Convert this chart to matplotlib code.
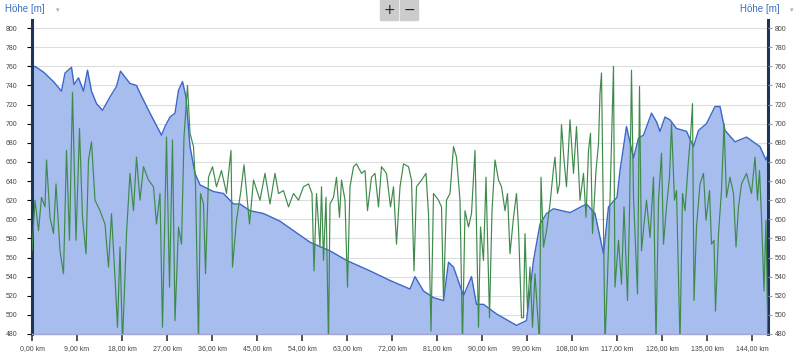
import matplotlib
matplotlib.use("Agg")
import matplotlib.pyplot as plt

plt.rcParams['font.family'] = ['Liberation Sans', 'DejaVu Sans']

# elevation profile (km, m)
hoehe_km = [0.0, 0.6, 2.3, 4.3, 5.9, 6.6, 7.9, 8.4, 9.3, 10.3, 11.1, 11.9, 12.9, 14.1,
            15.6, 16.9, 17.7, 19.6, 20.9, 21.6, 23.6, 25.9, 26.6, 27.6, 28.6, 29.3,
            30.1, 30.8, 31.6, 32.6, 33.6, 36.3, 38.3, 40.3, 41.6, 43.6, 46.3, 49.6,
            55.6, 59.6, 62.9, 67.6, 71.6, 75.6, 76.6, 78.3, 80.3, 82.3, 83.3, 84.3,
            86.3, 87.9, 88.9, 90.3, 92.9, 96.9, 98.9, 100.3, 101.6, 102.9, 104.3,
            107.6, 110.9, 112.6, 114.3, 115.3, 117.0, 117.6, 118.9, 120.3, 121.3,
            122.3, 123.9, 124.9, 125.6, 126.6, 127.6, 128.9, 130.9, 132.3, 133.3,
            134.9, 136.6, 137.6, 138.6, 140.6, 142.9, 145.6, 146.8, 147.2]
hoehe_m = [758, 760, 754, 744, 734, 753, 759, 741, 748, 734, 756, 734, 721, 714,
           728, 739, 755, 742, 740, 732, 711, 688, 697, 707, 711, 735,
           744, 728, 676, 648, 636, 629, 627, 616, 616, 609, 606, 598,
           576, 567, 557, 546, 536, 527, 540, 525, 518, 515, 555, 550,
           520, 540, 511, 511, 501, 489, 494, 557, 595, 606, 611,
           607, 616, 606, 564, 613, 623, 651, 697, 664, 685,
           688, 711, 702, 692, 707, 704, 695, 692, 676, 693,
           700, 718, 718, 693, 681, 686, 676, 662, 668]

# second series (green)
gruen_km = [0.0, 0.6, 1.3, 1.9, 2.6, 2.9, 3.6, 4.3, 4.8, 5.6, 6.3, 6.9, 7.5, 8.1, 8.8,
            9.5, 10.1, 10.8, 11.3, 11.9, 12.6, 13.6, 14.6, 15.3, 15.9, 16.6, 17.1,
            17.6, 18.1, 18.9, 19.6, 20.3, 20.9, 21.6, 22.3, 23.3, 24.3, 24.9, 25.6,
            26.1, 26.9, 27.5, 28.1, 28.6, 29.3, 29.9, 30.4, 31.1, 31.6, 32.3, 32.7,
            33.3, 33.7, 34.3, 34.7, 35.3, 36.1, 36.9, 37.9, 38.9, 39.8, 40.1, 40.9,
            41.7, 42.4, 43.5, 44.3, 45.6, 46.6, 47.6, 48.6, 49.3, 50.3, 51.3, 52.3,
            53.3, 54.3, 55.3, 56.0, 56.4, 56.9, 57.6, 57.9, 58.3, 58.8, 59.3, 59.6,
            60.3, 60.9, 61.5, 61.9, 62.6, 63.1, 63.6, 64.3, 64.9, 65.9, 66.6, 67.1,
            67.9, 68.6, 69.3, 69.9, 70.9, 71.7, 72.3, 72.9, 73.6, 74.3, 75.3, 75.9,
            76.4, 76.9, 77.9, 78.8, 79.3, 79.8, 80.3, 81.3, 81.9, 82.3, 82.9, 83.6,
            84.3, 84.9, 85.6, 86.1, 86.6, 87.3, 87.9, 88.6, 89.3, 89.7, 90.3, 90.8,
            91.5, 92.0, 92.6, 93.3, 93.9, 94.6, 95.1, 95.6, 96.3, 96.9, 97.3, 97.9,
            98.3, 98.6, 99.1, 99.6, 100.1, 100.6, 101.5, 101.8, 102.3, 102.9, 103.6,
            104.3, 104.6, 105.1, 105.5, 105.9, 106.4, 106.9, 107.6, 108.3, 108.9,
            109.6, 110.3, 110.8, 111.3, 111.7, 112.1, 112.8, 113.3, 113.6, 113.9,
            114.3, 114.6, 115.1, 115.6, 116.3, 116.6, 117.3, 117.9, 118.4, 119.1,
            119.5, 119.9, 120.3, 121.1, 121.5, 121.9, 122.4, 122.9, 123.6, 124.3,
            124.8, 125.3, 125.9, 126.3, 126.9, 127.5, 127.9, 128.5, 128.9, 129.6,
            130.1, 130.6, 131.3, 131.7, 132.1, 132.4, 132.9, 133.6, 134.3, 134.8,
            135.5, 135.9, 136.4, 136.7, 137.3, 137.9, 138.4, 138.9, 139.6, 140.3,
            140.8, 141.3, 141.9, 142.9, 143.9, 144.6, 145.1, 145.5, 145.9, 146.4,
            146.8, 147.2]
gruen_m = [567, 620, 588, 623, 613, 662, 602, 585, 637, 567, 543, 672, 578, 733, 578,
           695, 602, 564, 662, 681, 620, 609, 595, 550, 606, 539, 487,
           571, 470, 585, 648, 609, 665, 620, 655, 641, 634, 595, 627,
           487, 686, 529, 683, 494, 592, 574, 686, 740, 690, 676, 637,
           470, 627, 616, 543, 644, 655, 634, 651, 627, 672, 550, 599,
           627, 657, 595, 641, 620, 648, 616, 648, 627, 630, 613, 627,
           620, 634, 637, 627, 546, 627, 571, 634, 557, 623, 470, 616,
           623, 644, 602, 641, 620, 529, 634, 655, 658, 648, 651, 609,
           644, 648, 613, 655, 648, 613, 634, 574, 634, 658, 655, 641,
           546, 634, 641, 648, 606, 483, 627, 620, 613, 515, 620, 627,
           676, 665, 620, 470, 609, 592, 606, 672, 487, 592, 557, 644,
           497, 609, 662, 641, 634, 609, 627, 564, 602, 627, 592, 497,
           497, 585, 504, 550, 487, 543, 470, 644, 571, 588, 616,
           653, 665, 627, 637, 699, 662, 634, 704, 648, 697,
           620, 648, 602, 672, 690, 585, 651, 679, 732, 753,
           592, 470, 539, 620, 760, 529, 578, 532, 613, 515,
           606, 756, 623, 522, 739, 567, 595, 620, 581, 644,
           470, 620, 669, 574, 613, 644, 700, 620, 630, 470,
           627, 609, 662, 686, 721, 515, 592, 637, 648, 599,
           630, 574, 578, 504, 585, 630, 700, 623, 644, 627,
           571, 613, 637, 648, 627, 665, 620, 651, 602, 525,
           599, 470]

y_ticks = [480, 500, 520, 540, 560, 580, 600, 620, 640, 660, 680, 700, 720, 740, 760, 780, 800]
x_ticks = [0, 9, 18, 27, 36, 45, 54, 63, 72, 81, 90, 99, 108, 117, 126, 135, 144]
x_labels = ["%d,00 km" % t for t in x_ticks]

fig = plt.figure(figsize=(8, 3.55), dpi=100)
ax = fig.add_axes([0.04, 0.0592, 0.92, 0.8845])

ax.fill_between(hoehe_km, 400, hoehe_m, color="#a7bdee", lw=0, zorder=1)
ax.plot(hoehe_km, hoehe_m, color="#3a67c8", lw=1.0, zorder=2)
ax.plot(gruen_km, gruen_m, color="#3e8a4c", lw=0.85, zorder=3)

ax.set_xlim(0, 147.2)
ax.set_ylim(480, 808.5)
ax.set_yticks(y_ticks)
ax.set_xticks(x_ticks)
ax.set_xticklabels(x_labels)
ax.grid(axis="y", color="#dddddd", lw=0.8, zorder=0)
ax.set_axisbelow(True)

ax.spines["top"].set_visible(False)
ax.spines["left"].set_color("#1d3557")
ax.spines["left"].set_linewidth(2.2)
ax.spines["right"].set_color("#1d3557")
ax.spines["right"].set_linewidth(2.2)
ax.spines["bottom"].set_color("#a4a4d0")
ax.spines["bottom"].set_linewidth(1.0)

ax.tick_params(axis="x", colors="#333333", length=5, width=1.2, labelsize=5,
               pad=3, labelcolor="#444444")
ax.tick_params(axis="y", left=False, labelsize=5, labelcolor="#444444", pad=7)

ax2 = ax.twinx()
ax2.set_ylim(ax.get_ylim())
ax2.set_yticks(y_ticks)
for s in ["top", "left", "bottom", "right"]:
    ax2.spines[s].set_visible(False)
ax2.tick_params(axis="y", length=3, color="#999999", labelsize=5,
                labelcolor="#444444", pad=2)

# headers
fig.text(0.006, 0.975, "Höhe [m]", color="#3a6fbf", fontsize=7, va="center")
fig.text(0.07, 0.972, "▾", color="#aaaaaa", fontsize=5, va="center",
         family="DejaVu Sans")
fig.text(0.925, 0.975, "Höhe [m]", color="#3a6fbf", fontsize=7, va="center")
fig.text(0.988, 0.972, "▾", color="#aaaaaa", fontsize=5, va="center",
         family="DejaVu Sans")

# zoom buttons
for bx, sym in [(0.475, "+"), (0.5, "−")]:
    fig.patches.append(plt.Rectangle((bx, 0.944), 0.023, 0.056, transform=fig.transFigure,
                                     color="#cccccc", zorder=0))
    fig.text(bx + 0.0115, 0.972, sym, ha="center", va="center", fontsize=10,
             color="#222222", family="DejaVu Sans")

fig.savefig("out.png", dpi=100)
